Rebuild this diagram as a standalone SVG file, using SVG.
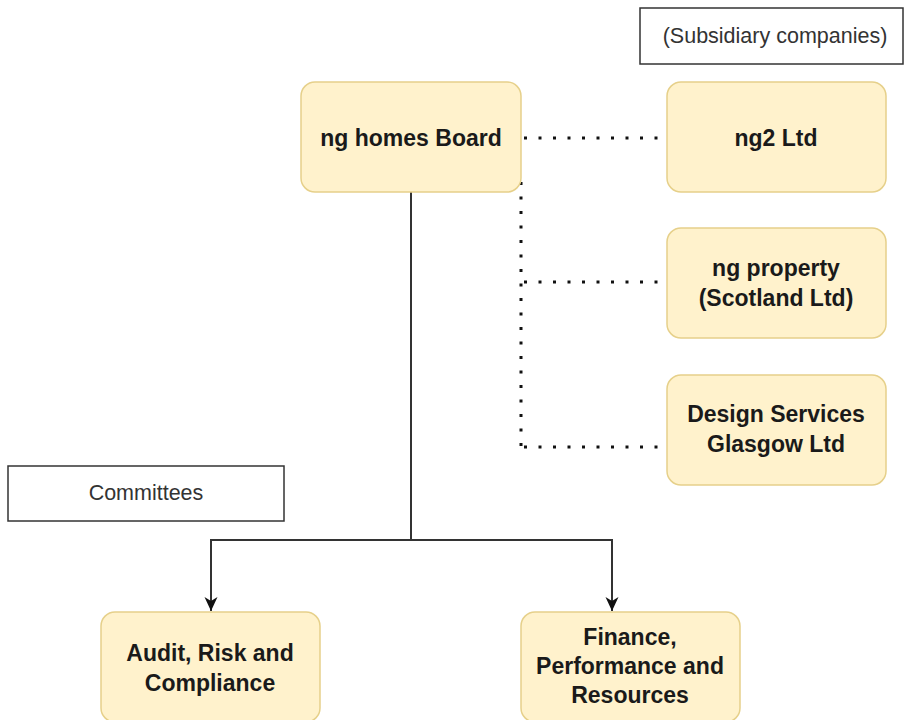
<svg xmlns="http://www.w3.org/2000/svg" width="904" height="720" viewBox="0 0 904 720">
<defs>
<style>
.node{fill:#fff2cc;stroke:#e6d08a;stroke-width:1.5}
.lbl{fill:#fff;stroke:#333;stroke-width:1.5}
.t{font-family:"Liberation Sans",Arial,sans-serif;font-weight:bold;font-size:23px;fill:#1a1a1a;text-anchor:middle}
.tl{font-family:"Liberation Sans",Arial,sans-serif;font-size:21.5px;fill:#333;text-anchor:middle}
.solid{fill:none;stroke:#333;stroke-width:2}
.dot{fill:none;stroke:#111;stroke-width:3;stroke-dasharray:3 11.5}
</style>
<marker id="a" viewBox="0 0 14 14" refX="14" refY="7" markerWidth="14" markerHeight="14" orient="auto" markerUnits="userSpaceOnUse">
<path d="M0,0.5 L14,7 L0,13.5 L4,7 Z" fill="#111"/>
</marker>
</defs>
<rect width="904" height="720" fill="#fff"/>
<g id="connectors">
<path class="solid" d="M411,192 V540 H211 V611" marker-end="url(#a)"/>
<path class="solid" d="M411,540 H612 V611" marker-end="url(#a)"/>
<path class="dot" d="M524,138 H667"/>
<path class="dot" d="M521,182 V447"/>
<path class="dot" d="M524,282 H667"/>
<path class="dot" d="M524,447 H667"/>
</g>
<g id="label-subsidiary">
<rect class="lbl" x="640" y="8" width="263" height="56"/>
<text class="tl" x="775" y="43">(Subsidiary companies)</text>
</g>
<g id="label-committees">
<rect class="lbl" x="8" y="466" width="276" height="55"/>
<text class="tl" x="146" y="500">Committees</text>
</g>
<g id="board">
<rect class="node" x="301" y="82" width="220" height="110" rx="14"/>
<text class="t" x="411" y="146">ng homes Board</text>
</g>
<g id="ng2">
<rect class="node" x="667" y="82" width="219" height="110" rx="14"/>
<text class="t" x="776" y="146">ng2 Ltd</text>
</g>
<g id="ngproperty">
<rect class="node" x="667" y="228" width="219" height="110" rx="14"/>
<text class="t" x="776" y="276">ng property</text>
<text class="t" x="776" y="306">(Scotland Ltd)</text>
</g>
<g id="design">
<rect class="node" x="667" y="375" width="219" height="110" rx="14"/>
<text class="t" x="776" y="422">Design Services</text>
<text class="t" x="776" y="452">Glasgow Ltd</text>
</g>
<g id="audit">
<rect class="node" x="101" y="612" width="219" height="110" rx="14"/>
<text class="t" x="210" y="661">Audit, Risk and</text>
<text class="t" x="210" y="691">Compliance</text>
</g>
<g id="finance">
<rect class="node" x="521" y="612" width="219" height="110" rx="14"/>
<text class="t" x="630" y="645">Finance,</text>
<text class="t" x="630" y="674">Performance and</text>
<text class="t" x="630" y="703">Resources</text>
</g>
</svg>
